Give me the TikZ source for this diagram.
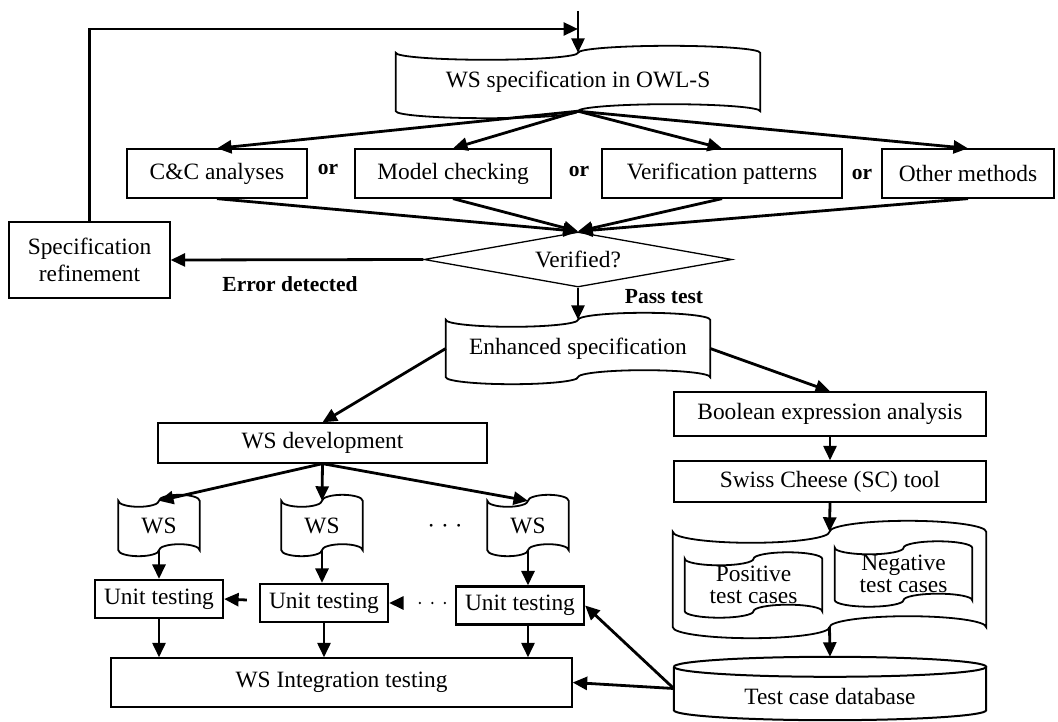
\documentclass[tikz,border=0pt]{standalone}
\usepackage{fontspec}
\setmainfont{Liberation Serif}
\usetikzlibrary{arrows.meta,calc,shapes.geometric}
\tikzset{
  every node/.style={font=\fontsize{23.4}{27}\selectfont, inner sep=0pt},
  box/.style={rectangle, draw, line width=1.3pt},
  ubox/.style={rectangle, draw, line width=2.2pt, minimum width=128pt, minimum height=38pt},
  tp/.style={rectangle, draw=none},
  dia/.style={diamond, draw, line width=1.3pt, minimum width=308pt, minimum height=55pt, aspect=5.6},
  arr/.style={line width=2.8pt, -{Triangle[length=14.5pt,width=13pt]}},
  lbl/.style={font=\fontsize{21.5}{24}\selectfont\bfseries},
  tapeline/.style={line width=1.8pt},
}
% punched-tape outline around a node (node box = corner baselines)
\newcommand\tapeborder[2]{%
  \draw[tapeline] let \p1=(#1.north west), \p2=(#1.south east),
      \n1={(\x2-\x1)/4}, \n2={#2} in
    (\x1,\y1) arc[start angle=180,end angle=360,x radius=\n1,y radius=\n2]
              arc[start angle=180,end angle=0,x radius=\n1,y radius=\n2]
    -- (\x2,\y2) arc[start angle=0,end angle=180,x radius=\n1,y radius=\n2]
              arc[start angle=0,end angle=-180,x radius=\n1,y radius=\n2]
    -- cycle;}
\begin{document}
\begin{tikzpicture}[x=1pt,y=-1pt]
\useasboundingbox (0,0) rectangle (1058,722);

% ---- nodes ----
\node[tp, minimum width=364pt, minimum height=58pt] (wsspec) at (578,82) {WS specification in OWL-S};
\node[box, minimum width=180pt, minimum height=49pt] (cc) at (217,173.5) {C\&C analyses};
\node[box, minimum width=196pt, minimum height=49pt] (mc) at (453,173.5) {Model checking};
\node[box, minimum width=240pt, minimum height=49pt] (vp) at (722,173.5) {Verification patterns};
\node[box, minimum width=172pt, minimum height=49pt] (om) at (968,173.5) {Other methods};
\node[lbl] (or1) at (328,170) {or};
\node[lbl] (or2) at (579,172) {or};
\node[lbl] (or3) at (862,175) {or};
\node[box, minimum width=161pt, minimum height=76pt, align=center] (spec) at (89.5,260) {Specification\\refinement};
\node[dia] (ver) at (578,259.5) {Verified?};
\node[lbl] (err) at (290,284) {Error detected};
\node[lbl] (pass) at (664,297) {Pass test};
\node[tp, minimum width=264pt, minimum height=57pt] (enh) at (578,348.5) {Enhanced specification};
\node[box, minimum width=329pt, minimum height=40pt] (wsdev) at (322.5,443) {WS development};
\node[tp, minimum width=81pt, minimum height=49pt] (ws1) at (159,525.5) {WS};
\node[tp, minimum width=81pt, minimum height=49pt] (ws2) at (322,525.5) {WS};
\node[tp, minimum width=81pt, minimum height=49pt] (ws3) at (528,525.5) {WS};
\node (dots) at (445,529) {· · ·};
\node[ubox] (ut1) at (159,599) {Unit testing};
\node[ubox] (ut2) at (324,603) {Unit testing};
\node[ubox] (ut3) at (520,605.5) {Unit testing};
\node[box, minimum width=461pt, minimum height=49pt] (integ) at (341.5,682.5) {WS Integration testing};
\node[box, minimum width=312pt, minimum height=44pt] (bool) at (830,414) {Boolean expression analysis};
\node[box, minimum width=312pt, minimum height=41pt] (swiss) at (830,481.5) {Swiss Cheese (SC) tool};
\node[tp, minimum width=313pt, minimum height=95pt] (tc) at (829.5,579.5) {};
\node[tp, minimum width=137pt, minimum height=52pt, align=center,
      font=\fontsize{23.4}{22}\selectfont] (pos) at (753.5,585) {Positive\\test cases};
\node[tp, minimum width=137pt, minimum height=52pt, align=center,
      font=\fontsize{23.4}{22}\selectfont] (neg) at (903.5,574) {Negative\\test cases};
\node[tp, minimum width=312pt, minimum height=63pt] (db) at (830,688.5) {};
\node (dbtext) at (830,696) {Test case database};

% ---- tape outlines ----
\tapeborder{wsspec}{7pt}
\tapeborder{enh}{7pt}
\tapeborder{ws1}{6pt}
\tapeborder{ws2}{6pt}
\tapeborder{ws3}{6pt}
\tapeborder{tc}{11pt}
\tapeborder{pos}{6.5pt}
\tapeborder{neg}{6.5pt}

% ---- cylinder ----
\draw[line width=2pt] let \p1=(db.north west), \p2=(db.south east),
    \n1={(\x2-\x1)/2}, \n2={10pt} in
  (\x1,\y1-\n2) arc[start angle=180,end angle=-180,x radius=\n1,y radius=\n2]
  (\x1,\y1-\n2) -- (\x1,\y2+\n2)
     arc[start angle=180,end angle=360,x radius=\n1,y radius=\n2]
  -- (\x2,\y1-\n2);

% ---- connectors ----
\coordinate (topin) at (578,11);
\coordinate (merge) at (578,29);
\draw[arr] (topin) -- (wsspec.north);
\draw[arr] (spec.north) |- (merge);
\foreach \b in {cc,mc,vp,om}{
  \draw[arr] (wsspec.south) -- (\b.north);
  \draw[arr] (\b.south) -- (ver.north);
}
\draw[arr] (ver.west) -- (spec.east);
\draw[arr] (ver.south) -- (enh.north);
\draw[arr] (enh.west) -- (wsdev.north);
\draw[arr] (enh.east) -- (bool.north);
\draw[arr] (wsdev.south) -- (ws1.north);
\draw[arr] (wsdev.south) -- (ws2.north);
\draw[arr] (wsdev.south) -- (ws3.north);
\draw[arr] (ws1.south) -- (ws1.south |- ut1.north);
\draw[arr] (ws2.south) -- (ws2.south |- ut2.north);
\draw[arr] (ws3.south) -- (ws3.south |- ut3.north);
\draw[arr] (ut1.south) -- (ut1.south |- integ.north);
\draw[arr] (ut2.south) -- (ut2.south |- integ.north);
\draw[arr] (ws3.south |- ut3.south) -- (ws3.south |- integ.north);
\draw[arr] ($(ut2.west)+(-12,-3)$) -- (ut1.east);
\draw[line width=2.6pt, line cap=round, dash pattern=on 0pt off 12.5pt]
  ($(ut3.west)+(-10,-2.5)$) -- ($(ut3.west)+(-46,-2.5)$);
\draw[arr] ($(ut3.west)+(-55,-2.5)$) -- (ut2.east);
\draw[arr] (bool.south) -- (swiss.north);
\draw[arr] (swiss.south) -- (tc.north);
\draw[arr] (tc.south) -- (db.north);
\draw[arr] (db.west) -- (ut3.east);
\draw[arr] (db.west) -- (integ.east);
\end{tikzpicture}
\end{document}
